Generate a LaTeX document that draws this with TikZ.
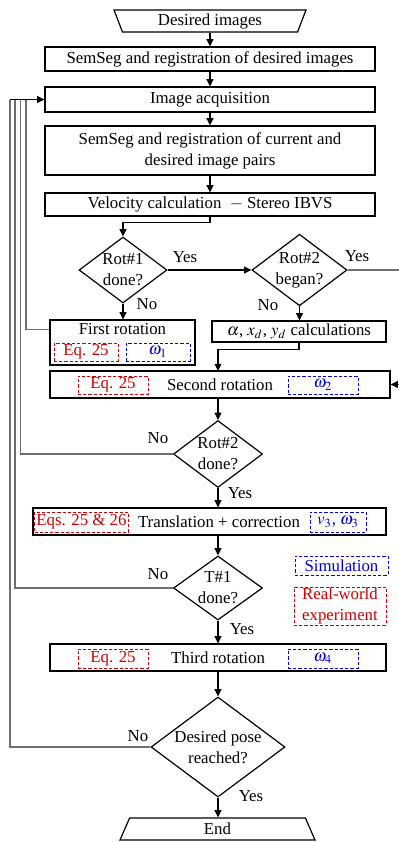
\documentclass[tikz,border=0pt]{standalone}
\usepackage{mathptmx}
\usepackage{fontspec}
\setmainfont{Liberation Serif}
\usetikzlibrary{arrows.meta,positioning,calc,shapes.geometric}
\definecolor{eqred}{RGB}{204,0,0}
\definecolor{simblue}{RGB}{0,0,215}
\definecolor{loopgray}{RGB}{110,110,110}

\begin{document}
\begin{tikzpicture}[
  x=0.5pt, y=-0.5pt,
  font=\fontsize{8.4}{10.5}\selectfont,
  box/.style={draw, line width=0.6pt, inner sep=0pt, align=center},
  dec/.style={draw, diamond, aspect=1.33, line width=0.6pt, inner sep=0pt, align=center},
  term/.style={draw, trapezium, trapezium stretches body, line width=0.6pt,
               inner sep=0pt, minimum height=11pt},
  eqb/.style={draw=eqred, dash pattern=on 1.6pt off 1pt, text=eqred,
              line width=0.5pt, inner sep=0pt, align=center},
  omb/.style={draw=simblue, dash pattern=on 1.6pt off 1pt, text=simblue,
              line width=0.5pt, inner sep=0pt, align=center},
  a/.style={-{Triangle[length=3.6pt,width=3.4pt]}, line width=0.6pt},
  back/.style={line width=0.6pt, draw=loopgray},
  lbl/.style={inner sep=0pt}]

\useasboundingbox (0,0) rectangle (398,842);

% ---------------- start and image processing -----------------------------
\node[term, shape border rotate=180, trapezium left angle=61,
      trapezium right angle=61, minimum width=96pt] (start) at (210,21) {Desired images};
\node[box, minimum width=165pt, minimum height=12pt] (semdes) at (210,59)
      {SemSeg and registration of desired images};
\node[box, minimum width=165pt, minimum height=12.5pt] (acq) at (210,99.5)
      {Image acquisition};
\node[box, minimum width=165pt, minimum height=24.5pt] (pairs) at (210,150.5)
      {SemSeg and registration of current and\\desired image pairs};
\node[box, minimum width=165pt, minimum height=11.5pt] (vel) at (210,204.5)
      {Velocity calculation \ $-$ Stereo IBVS};
\foreach \u/\v in {start/semdes, semdes/acq, acq/pairs, pairs/vel}
  \draw[a] (\u.south) -- (\u.south |- \v.north);

% ---------------- first and second rotation ------------------------------
\node[dec, minimum width=44pt, minimum height=33pt] (rot1) at (123,270) {Rot\#1\\done?};
\node[dec, minimum width=45.5pt, minimum height=33pt] (rot2b) at (299.5,270) {Rot\#2\\began?};
\draw[a] (vel.south) -- ++(0,6) -| (rot1.north);
\draw[a] (rot1.east) -- (rot2b.west);
\node[lbl] (yes1) at (185,257) {Yes};
\node[lbl] (yes2) at (357,256) {Yes};

\node[box, minimum width=72.5pt, minimum height=22.5pt] (first) at (122.5,342.5) {};
\node[lbl] (firsttxt) at (122.5,329.5) {First rotation};
\node[eqb, minimum width=32pt, minimum height=9pt] (eq1) at (86,352) {Eq. 25};
\node[omb, minimum width=32pt, minimum height=9pt] (om1) at (158,352) {$\omega_1$};
\draw[a] (rot1.south) -- (first.north -| rot1);
\node[lbl] (no1) at (147,304) {No};

\node[box, minimum width=87pt, minimum height=10.5pt] (alpha) at (299,331.5)
      {$\alpha$, $x_d$, $y_d$ calculations};
\draw[a] (rot2b.south) -- (alpha.north -| rot2b);
\node[lbl] (no2) at (268,305) {No};

\node[box, minimum width=170pt, minimum height=13.5pt] (sec) at (220,384.5) {Second rotation};
\node[eqb, minimum width=35pt, minimum height=9pt] (eq2) at (113,385) {Eq. 25};
\node[omb, minimum width=35pt, minimum height=9pt] (om2) at (323,385) {$\omega_2$};
\draw[a] (alpha.south) -- ++(0,7) -| (218,371);
\draw[back, -{Triangle[length=3.6pt,width=3.4pt,color=black]}]
      (rot2b.east) -- ++(80,0) |- (sec.east);

% ---------------- translation and third rotation -------------------------
\node[dec, minimum width=44.5pt, minimum height=33.5pt] (rot2d) at (218,454) {Rot\#2\\done?};
\node[lbl] (no3) at (158,438) {No};
\node[lbl] (yes3) at (240,493) {Yes};

\node[box, minimum width=176.5pt, minimum height=13.5pt] (trans) at (209.5,521.5) {};
\node[lbl] (transtxt) at (219,521.5) {Translation + correction};
\node[eqb, minimum width=47pt, minimum height=10pt] (eq3) at (81.5,522) {Eqs. 25 \& 26};
\node[omb, minimum width=28pt, minimum height=10pt] (om3) at (338,522) {$v_3$, $\omega_3$};

\node[dec, minimum width=44.5pt, minimum height=32pt] (t1) at (218,588) {T\#1\\done?};
\node[lbl] (no4) at (158,574) {No};
\node[lbl] (yes4) at (242,629) {Yes};

\node[omb, minimum width=46.5pt, minimum height=9.5pt] (sim) at (341.5,565.5) {Simulation};
\node[eqb, minimum width=46pt, minimum height=19pt] (real) at (340,606) {Real-world\\experiment};

\node[box, minimum width=168pt, minimum height=13.5pt] (third) at (218,657.5) {Third rotation};
\node[eqb, minimum width=35pt, minimum height=9.5pt] (eq4) at (113,658.5) {Eq. 25};
\node[omb, minimum width=35pt, minimum height=9.5pt] (om4) at (323,658.5) {$\omega_4$};

% ---------------- final check and end ------------------------------------
\node[dec, minimum width=67pt, minimum height=50pt] (pose) at (218,747) {Desired pose\\reached?};
\node[lbl] (no5) at (138,736) {No};
\node[lbl] (yes5) at (251,796) {Yes};
\node[term, trapezium left angle=51, trapezium right angle=51,
      minimum width=97.5pt] (end) at (217.5,829) {End};

\foreach \u/\v in {sec/rot2d, rot2d/trans, trans/t1, t1/third, third/pose, pose/end}
  \draw[a] (\u.south -| rot2d) -- (\v.north -| rot2d);

% ---------------- loops back to image acquisition ------------------------
\coordinate (firstout) at (first.west |- firsttxt);
\foreach \s/\lx in {firstout/26, rot2d.west/20.5, t1.west/15, pose.west/10}
  \draw[back] (\s) -| (\lx,99.5);
\draw[a] (10,99.5) -- (acq.west);
\end{tikzpicture}
\end{document}
